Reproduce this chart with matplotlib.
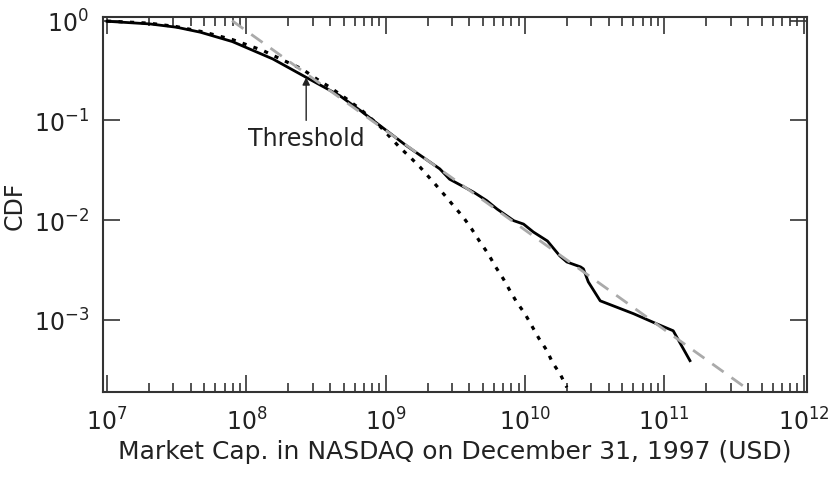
# ==============================================================================
# CDF of market capitalisation, NASDAQ, 31 Dec 1997
#
# Empirical CDF (solid), log-normal fit (dotted), power-law fit (grey dashed),
# with the threshold marked by an arrow. Saves out.png.
# ==============================================================================

import matplotlib
matplotlib.use("Agg")
import matplotlib.pyplot as plt
from matplotlib.ticker import LogLocator, NullLocator

# ── Data ──
# Empirical CDF
EMP_X = [1.0e7, 2.04e7, 3.16e7, 4.68e7, 7.94e7, 1.55e8, 2.69e8, 4.68e8, 6.61e8,
         9.12e8, 1.41e9, 2.45e9, 2.88e9, 4.27e9, 5.31e9, 6.31e9, 8.32e9, 9.77e9,
         1.15e10, 1.45e10, 1.78e10, 2.0e10, 2.51e10, 2.63e10, 2.85e10, 3.47e10,
         6.03e10, 8.81e10, 1.16e11, 1.53e11]
EMP_Y = [0.986, 0.927, 0.859, 0.766, 0.617, 0.413, 0.270, 0.177, 0.125,
         0.0885, 0.0557, 0.0326, 0.0257, 0.0191, 0.0157, 0.0129, 0.00986, 0.00912,
         0.00759, 0.00617, 0.00437, 0.0038, 0.00339, 0.00324, 0.0024, 0.00155,
         0.00115, 0.000912, 0.000776, 0.000389]

# Log-normal fit
LOGN_X = [1.0e7, 2.0e7, 3.16e7, 5.0e7, 7.94e7, 1.32e8, 1.86e8, 2.51e8, 3.2e8,
          3.98e8, 5.25e8, 6.61e8, 9.12e8, 1.26e9, 1.5e9, 1.77e9, 2.32e9, 2.67e9,
          3.06e9, 3.61e9, 4.15e9, 4.76e9, 5.46e9, 6.1e9, 7.0e9, 7.82e9, 8.71e9,
          1.0e10, 1.12e10, 1.26e10, 1.44e10, 1.58e10, 1.78e10, 2.0e10]
LOGN_Y = [0.991, 0.944, 0.871, 0.767, 0.646, 0.501, 0.398, 0.328, 0.26,
          0.215, 0.164, 0.129, 0.0871, 0.0537, 0.0427, 0.0339, 0.0221, 0.0176,
          0.014, 0.0107, 0.00813, 0.00603, 0.00457, 0.00347, 0.00257, 0.00195, 0.00151,
          0.00115, 0.00087, 0.00065, 0.00049, 0.00037, 0.00029, 0.00021]

# Power-law fit (straight line in log-log, slope ~ -1)
POW_X = [7.9e7, 3.9e11]
POW_Y = [1.0, 2.05e-4]

# Threshold marker
THRESH_X = 2.69e8
THRESH_Y = 0.27
THRESH_TAIL_Y = 0.1
THRESH_LABEL = "Threshold"

XLABEL = "Market Cap. in NASDAQ on December 31, 1997 (USD)"
YLABEL = "CDF"

FONT = 17
SPINE = "#333333"
TEXT = "#222222"


def main():
    plt.rcParams["font.family"] = ["DejaVu Sans"]
    plt.rcParams["mathtext.fontset"] = "dejavusans"

    fig = plt.figure(figsize=(8.29, 4.81), dpi=100)
    ax = fig.add_axes([0.1242, 0.183, 0.8493, 0.779])

    ax.plot(EMP_X, EMP_Y, color="black", lw=2.0, zorder=3)
    ax.plot(LOGN_X, LOGN_Y, color="black", lw=2.3, linestyle=(0, (1.3, 2.3)), zorder=3)
    ax.plot(POW_X, POW_Y, color="#aaaaaa", lw=2.0, linestyle=(0, (5, 3.5)), zorder=4)

    # threshold arrow + label
    ax.annotate("", xy=(THRESH_X, THRESH_Y), xytext=(THRESH_X, THRESH_TAIL_Y),
                arrowprops=dict(arrowstyle="-|>", color=TEXT, lw=1.0,
                                mutation_scale=11, shrinkA=0, shrinkB=0),
                zorder=5)
    ax.text(THRESH_X, 0.088, THRESH_LABEL, ha="center", va="top",
            fontsize=FONT, color=TEXT)

    ax.set_xscale("log")
    ax.set_yscale("log")
    ax.set_xlim(10 ** 6.971, 10 ** 12.025)
    ax.set_ylim(10 ** -3.724, 10 ** 0.034)

    ax.xaxis.set_major_locator(LogLocator(base=10, numticks=20))
    ax.xaxis.set_minor_locator(LogLocator(base=10, subs=range(2, 10), numticks=20))
    ax.yaxis.set_major_locator(LogLocator(base=10, numticks=20))
    ax.yaxis.set_minor_locator(NullLocator())

    ax.tick_params(which="both", direction="in", top=True, right=True,
                   color=SPINE, width=1.2, labelcolor=TEXT)
    ax.tick_params(which="major", length=12)
    ax.tick_params(which="minor", length=6.5)
    ax.tick_params(axis="x", which="major", pad=11, labelsize=FONT)
    ax.tick_params(axis="y", which="major", pad=10, labelsize=FONT)

    for s in ax.spines.values():
        s.set_color(SPINE)
        s.set_linewidth(1.5)

    ax.set_xlabel(XLABEL, fontsize=FONT + 1, labelpad=3, color=TEXT)
    ax.set_ylabel(YLABEL, fontsize=FONT, labelpad=5, color=TEXT)

    fig.savefig("out.png", dpi=100)


if __name__ == "__main__":
    main()
